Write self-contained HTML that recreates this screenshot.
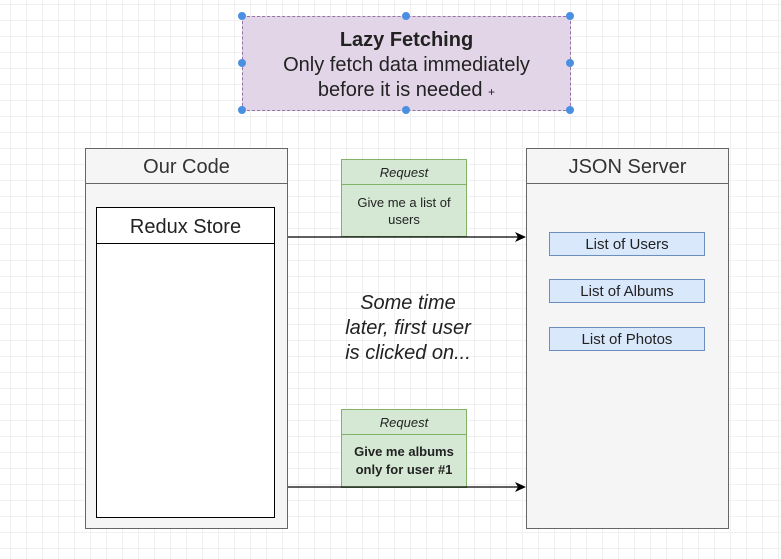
<!DOCTYPE html>
<html><head><meta charset="utf-8"><style>
html,body{margin:0;padding:0}
body{width:781px;height:559px;position:relative;overflow:hidden;font-family:"Liberation Sans",sans-serif;color:#222;
background-color:#fff;background-image:linear-gradient(#f0f0f0 1px,transparent 1px),linear-gradient(90deg,#f0f0f0 1px,transparent 1px);background-size:16px 16px;background-position:-6px 4px}
.a{position:absolute;box-sizing:border-box}
.c{display:flex;align-items:center;justify-content:center;text-align:center}
.h{width:8px;height:8px;border-radius:50%;background:#4a90e2;position:absolute}
</style></head><body>
<div class="a c" style="left:242px;top:16px;width:329px;height:95px;padding-top:6px;background:#e1d5e7;border:1px dashed #9673a6;flex-direction:column;font-size:20px;line-height:25px">
<b>Lazy Fetching</b><div>Only fetch data immediately</div><div>before it is needed <span style="font-size:12px">+</span></div></div>
<div class="h" style="left:238px;top:12px"></div><div class="h" style="left:402px;top:12px"></div><div class="h" style="left:566px;top:12px"></div>
<div class="h" style="left:238px;top:59px"></div><div class="h" style="left:566px;top:59px"></div>
<div class="h" style="left:238px;top:106px"></div><div class="h" style="left:402px;top:106px"></div><div class="h" style="left:566px;top:106px"></div>

<div class="a" style="left:85px;top:148px;width:203px;height:381px;background:#f5f5f5;border:1px solid #666"></div>
<div class="a c" style="left:85px;top:148px;width:203px;height:36px;padding-top:2px;border:1px solid #666;font-size:20px;color:#333">Our Code</div>
<div class="a" style="left:96px;top:207px;width:179px;height:311px;background:#fff;border:1px solid #000"></div>
<div class="a c" style="left:96px;top:207px;width:179px;height:37px;padding-top:3px;border:1px solid #000;font-size:20px">Redux Store</div>

<div class="a" style="left:526px;top:148px;width:203px;height:381px;background:#f5f5f5;border:1px solid #666"></div>
<div class="a c" style="left:526px;top:148px;width:203px;height:36px;padding-top:2px;border:1px solid #666;font-size:20px;color:#333">JSON Server</div>
<div class="a c" style="left:549px;top:232px;width:156px;height:24px;padding-top:1px;background:#dae8fc;border:1px solid #6c8ebf;font-size:15px">List of Users</div>
<div class="a c" style="left:549px;top:279px;width:156px;height:24px;padding-top:1px;background:#dae8fc;border:1px solid #6c8ebf;font-size:15px">List of Albums</div>
<div class="a c" style="left:549px;top:327px;width:156px;height:24px;padding-top:1px;background:#dae8fc;border:1px solid #6c8ebf;font-size:15px">List of Photos</div>

<div class="a" style="left:341px;top:159px;width:126px;height:78px;background:#d5e8d4;border:1px solid #82b366"></div>
<div class="a c" style="left:341px;top:159px;width:126px;height:26px;border:1px solid #82b366;font-size:13px;font-style:italic">Request</div>
<div class="a c" style="left:341px;top:184px;width:126px;height:53px;font-size:13px;line-height:17px">Give me a list of<br>users</div>

<div class="a" style="left:341px;top:409px;width:126px;height:79px;background:#d5e8d4;border:1px solid #82b366"></div>
<div class="a c" style="left:341px;top:409px;width:126px;height:26px;border:1px solid #82b366;font-size:13px;font-style:italic">Request</div>
<div class="a c" style="left:341px;top:434px;width:126px;height:54px;font-size:13px;line-height:18px;font-weight:bold">Give me albums<br>only for user #1</div>

<div class="a c" style="left:318px;top:290px;width:180px;height:76px;font-size:20px;font-style:italic;line-height:25px">Some time<br>later, first user<br>is clicked on...</div>

<svg class="a" style="left:0;top:0" width="781" height="559">
<line x1="288" y1="237" x2="518" y2="237" stroke="#000" stroke-width="1.3"/>
<path d="M526 237 L515 232 L518 237 L515 242 Z" fill="#000"/>
<line x1="288" y1="487" x2="518" y2="487" stroke="#000" stroke-width="1.3"/>
<path d="M526 487 L515 482 L518 487 L515 492 Z" fill="#000"/>
</svg>
</body></html>
